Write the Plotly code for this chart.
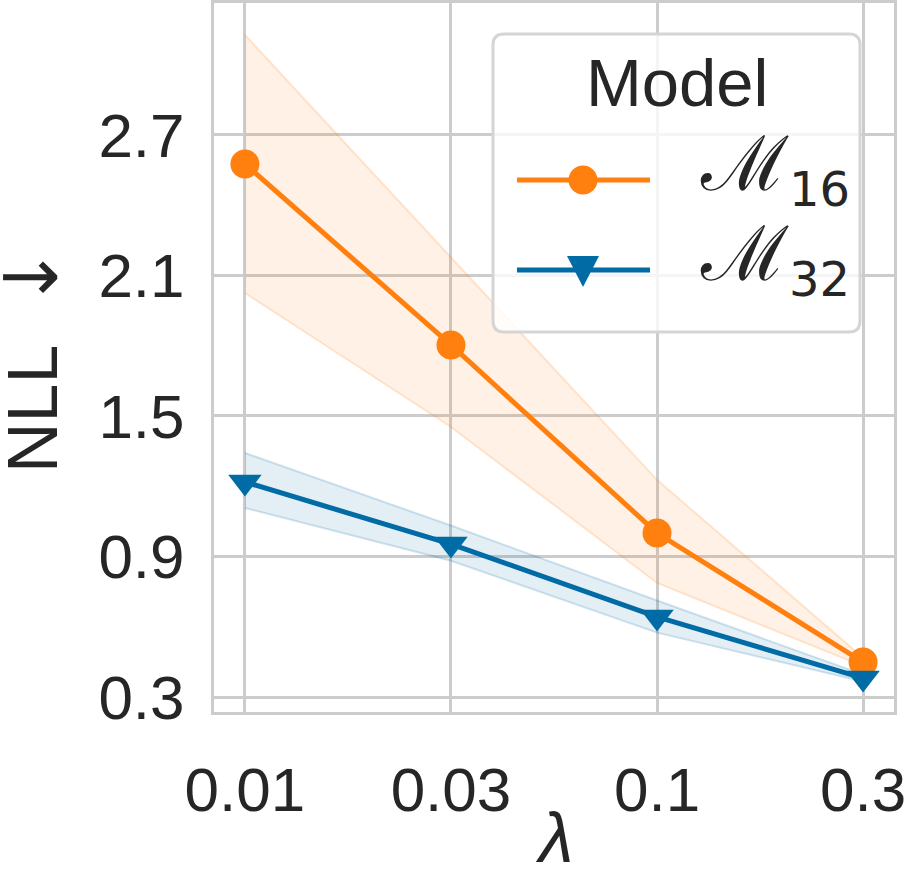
import plotly.graph_objects as go

# ---- data ----
lambdas = ["0.01", "0.03", "0.1", "0.3"]
m16_mean = [2.576, 1.803, 1.000, 0.449]
m16_low = [2.025, 1.453, 0.787, 0.432]
m16_high = [3.127, 2.179, 1.227, 0.468]
m32_mean = [1.218, 0.953, 0.642, 0.381]
m32_low = [1.107, 0.882, 0.575, 0.366]
m32_high = [1.342, 1.032, 0.712, 0.396]
y_ticks = [0.3, 0.9, 1.5, 2.1, 2.7]
legend_title = "Model"
legend_subs = ["16", "32"]
x_title = "<i>λ</i>"
y_title = "NLL  <span style=\"font-family:'DejaVu Sans';font-size:74px\">\u2193</span>"

ORANGE = "#FF800E"
BLUE = "#006BA4"
TXT = "#262626"
GRID = "#cccccc"
FONT = "Liberation Sans, Arial, sans-serif"
FS = 62
FT = 70

W, H = 905, 877
L, R, T, B = 214, 894, 3, 712


def px(x):
    return (x - L) / (R - L)


def py(y):
    return (B - y) / (B - T)


fig = go.Figure()


def band(lo, hi, rgb):
    fig.add_trace(go.Scatter(x=lambdas, y=lo, mode="lines",
                             line=dict(color=f"rgba({rgb},0.18)", width=2),
                             showlegend=False, hoverinfo="skip"))
    fig.add_trace(go.Scatter(x=lambdas, y=hi, mode="lines", fill="tonexty",
                             fillcolor=f"rgba({rgb},0.11)",
                             line=dict(color=f"rgba({rgb},0.18)", width=2),
                             showlegend=False, hoverinfo="skip"))


band(m16_low, m16_high, "255,128,14")
band(m32_low, m32_high, "0,107,164")

fig.add_trace(go.Scatter(x=lambdas, y=m16_mean, mode="lines+markers",
                         line=dict(color=ORANGE, width=5),
                         marker=dict(symbol="circle", size=29, color=ORANGE),
                         showlegend=False))
fig.add_trace(go.Scatter(x=lambdas, y=m32_mean, mode="lines+markers",
                         line=dict(color=BLUE, width=5),
                         marker=dict(symbol="triangle-down", size=29, color=BLUE),
                         showlegend=False))

# ---- custom legend (box, samples, texts) ----
bx0, bx1, by0, by1 = 493, 860, 34, 332
r = 11
x0, x1 = px(bx0), px(bx1)
yt, yb = py(by0), py(by1)
rx, ry = r / (R - L), r / (B - T)
path = (f"M{x0+rx},{yt} L{x1-rx},{yt} Q{x1},{yt} {x1},{yt-ry} "
        f"L{x1},{yb+ry} Q{x1},{yb} {x1-rx},{yb} L{x0+rx},{yb} "
        f"Q{x0},{yb} {x0},{yb+ry} L{x0},{yt-ry} Q{x0},{yt} {x0+rx},{yt} Z")
shapes = [dict(type="path", path=path, xref="paper", yref="paper",
               fillcolor="rgba(255,255,255,0.8)",
               line=dict(color="#d5d5d5", width=3), layer="above")]
rows = [180, 270]
for yy, col in zip(rows, [ORANGE, BLUE]):
    shapes.append(dict(type="line", xref="paper", yref="paper",
                       x0=px(517), x1=px(650), y0=py(yy), y1=py(yy),
                       line=dict(color=col, width=5), layer="above"))
shapes.append(dict(type="circle", xref="paper", yref="paper",
                   xsizemode="pixel", ysizemode="pixel",
                   xanchor=px(583), yanchor=py(180),
                   x0=-14.5, x1=14.5, y0=-14.5, y1=14.5,
                   fillcolor=ORANGE, line=dict(width=0), layer="above"))
shapes.append(dict(type="path", xref="paper", yref="paper",
                   xsizemode="pixel", ysizemode="pixel",
                   xanchor=px(583), yanchor=py(271),
                   path="M-16,15 L16,15 L0,-16 Z",
                   fillcolor=BLUE, line=dict(width=0), layer="above"))

annotations = [
    dict(text=legend_title, xref="paper", yref="paper", x=px(677), y=py(82),
         xanchor="center", yanchor="middle", showarrow=False,
         font=dict(family=FONT, size=67, color=TXT)),
    dict(text=x_title, xref="paper", yref="paper", x=px(554), y=py(838),
         xanchor="center", yanchor="middle", showarrow=False,
         font=dict(family=FONT, size=FT, color=TXT)),
    dict(text=y_title, xref="paper", yref="paper", x=px(31), y=py(360),
         xanchor="center", yanchor="middle", showarrow=False, textangle=-90,
         font=dict(family=FONT, size=FT, color=TXT)),
]
for yy, sub in zip(rows, legend_subs):
    txt = ("\u2133<sub><span style=\"font-family:'DejaVu Sans';font-size:48px\">"
           f"{sub}</span></sub>")
    annotations.append(dict(text=txt, xref="paper", yref="paper",
                            x=px(698), y=py(yy - 12), xanchor="left",
                            yanchor="middle", showarrow=False,
                            font=dict(family="DejaVu Serif", size=76, color=TXT)))

fig.update_layout(
    width=W, height=H,
    margin=dict(l=L, r=W - R, t=T, b=H - B, autoexpand=False),
    paper_bgcolor="white", plot_bgcolor="white",
    font=dict(family=FONT, size=FS, color=TXT),
    shapes=shapes, annotations=annotations,
    showlegend=False,
)
fig.update_xaxes(type="category", range=[-0.15, 3.15], automargin=False,
                 showgrid=True, gridcolor=GRID, gridwidth=3,
                 showline=True, linecolor=GRID, linewidth=3, mirror=True,
                 ticks="", ticklabelstandoff=22, zeroline=False,
                 tickfont=dict(family=FONT, size=FS, color=TXT))
fig.update_yaxes(range=[0.236, 3.263], tickvals=y_ticks, automargin=False,
                 ticktext=[f"{v:.1f}" for v in y_ticks],
                 showgrid=True, gridcolor=GRID, gridwidth=3,
                 showline=True, linecolor=GRID, linewidth=3, mirror=True,
                 ticks="", ticklabelstandoff=14, zeroline=False,
                 tickfont=dict(family=FONT, size=FS, color=TXT))

fig.write_html("out.html")
